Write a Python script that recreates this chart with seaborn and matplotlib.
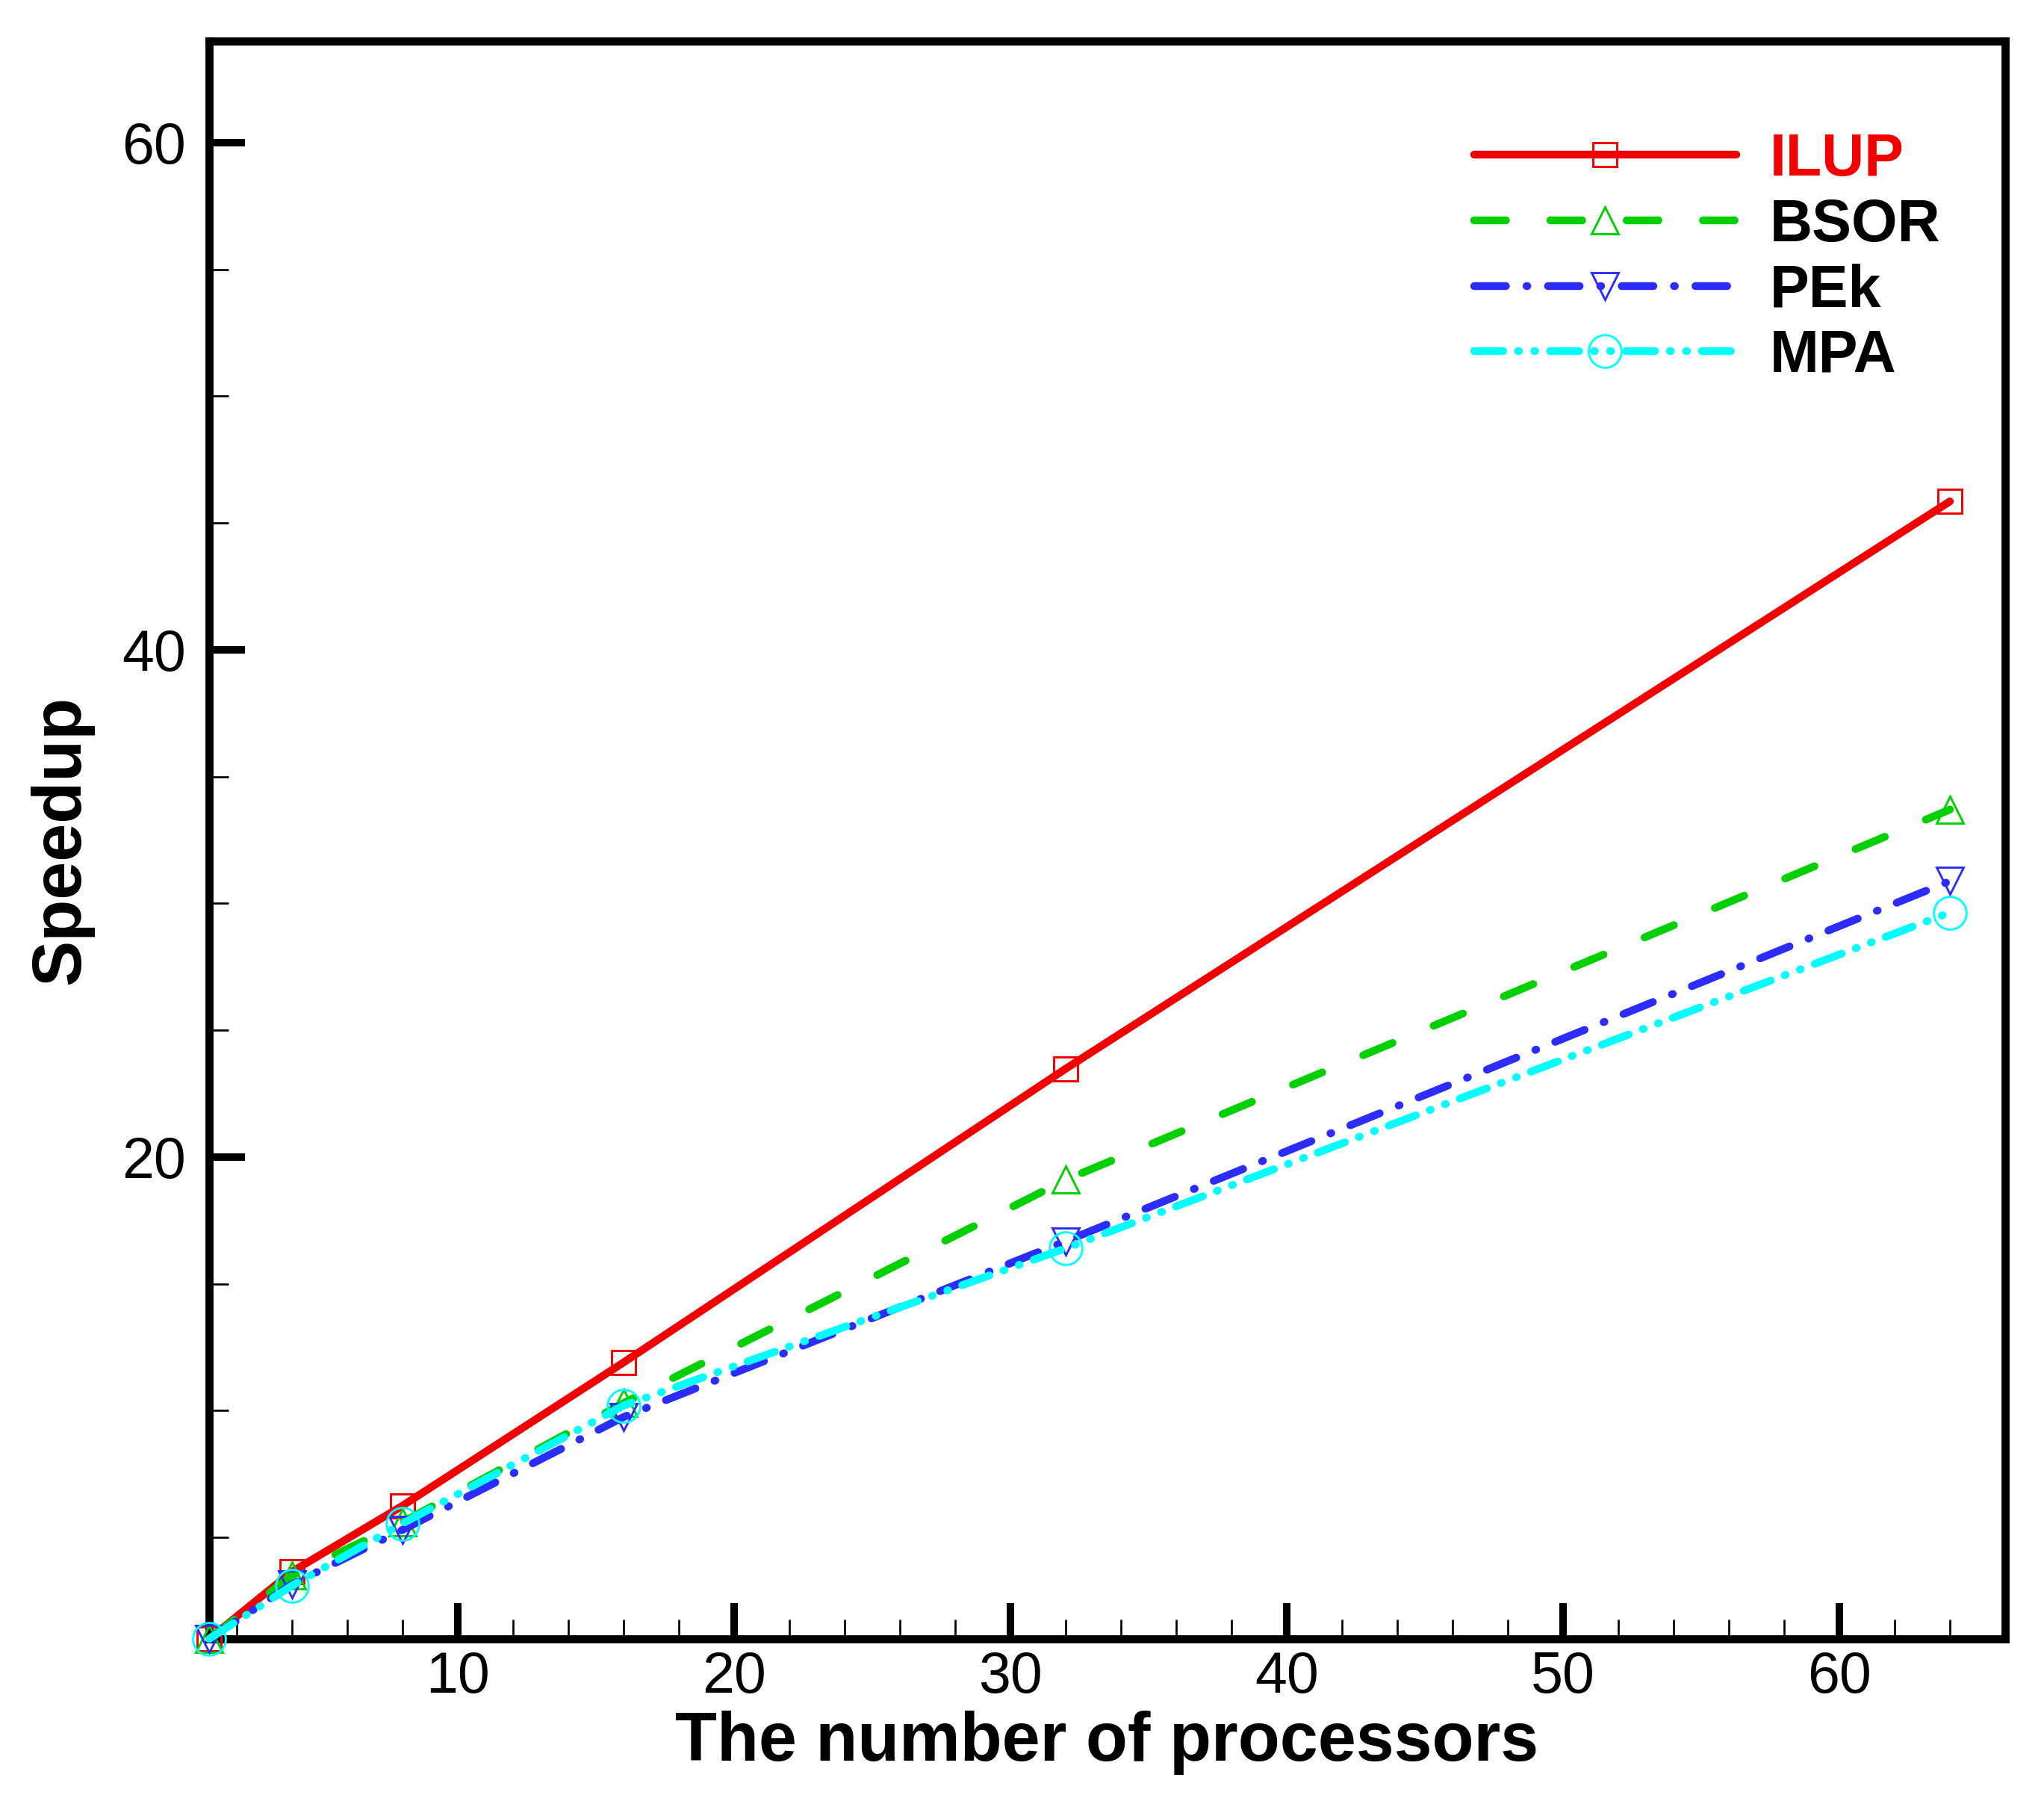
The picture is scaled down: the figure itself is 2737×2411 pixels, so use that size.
import numpy as np
import pandas as pd
import seaborn as sns
import matplotlib
matplotlib.use('Agg')
import matplotlib.pyplot as plt
from matplotlib.ticker import MultipleLocator

# data
procs = [1, 4, 8, 16, 32, 64]
ilup = [1.0, 3.65, 6.25, 11.9, 23.48, 45.85]
bsor = [1.0, 3.5, 5.6, 10.3, 19.1, 33.7]
pek = [1.0, 3.15, 5.3, 9.75, 16.68, 30.88]
mpa = [1.0, 3.1, 5.55, 10.2, 16.4, 29.64]

series_names = ['ILUP', 'BSOR', 'PEk', 'MPA']
series_values = [ilup, bsor, pek, mpa]
colors = ['#f00000', '#00d000', '#2c2cff', '#00ffff']
markers = ['s', '^', 'v', 'o']
marker_sizes = [7.7, 8.5, 8.5, 10.5]
linestyles = ['-',
              (0, (10.2, 14.3)),
              (0, (10.2, 6.6, 0.3, 6.6)),
              (0, (9.3, 4.8, 0.3, 4.9, 0.3, 4.8))]

sns.set_style('white')
plt.rcParams['font.family'] = ['Liberation Sans', 'DejaVu Sans']
plt.rcParams['lines.scale_dashes'] = False
plt.rcParams['text.color'] = 'black'
plt.rcParams['axes.labelcolor'] = 'black'

fig = plt.figure(figsize=(2737 / 300, 2411 / 300), dpi=300)
ax = fig.add_axes([0.1023, 0.09, 0.981 - 0.1023, 0.9772 - 0.09])

for name, vals, c, m, ms, ls in zip(series_names, series_values, colors,
                                    markers, marker_sizes, linestyles):
    df = pd.DataFrame({'procs': procs, 'speedup': vals})
    sns.lineplot(data=df, x='procs', y='speedup', ax=ax, color=c,
                 linewidth=2.5, linestyle=ls, marker=m, markersize=ms,
                 markerfacecolor='none', markeredgecolor=c,
                 markeredgewidth=0.7, dash_capstyle='round',
                 solid_capstyle='round', label=name, clip_on=False)

ax.set_xlim(1, 66)
ax.set_ylim(1, 64)
ax.xaxis.set_major_locator(MultipleLocator(10))
ax.xaxis.set_minor_locator(MultipleLocator(2))
ax.yaxis.set_major_locator(MultipleLocator(20))
ax.yaxis.set_minor_locator(MultipleLocator(5))

for sp in ax.spines.values():
    sp.set_linewidth(2.6)
    sp.set_color('black')
    sp.set_zorder(1)

ax.tick_params(which='major', direction='in', length=11.5, width=2.4,
               labelsize=18.5, color='black', labelcolor='black')
ax.tick_params(which='minor', direction='in', length=6.3, width=0.65,
               color='black')
ax.tick_params(axis='x', which='both', bottom=True, top=False, pad=3.5)
ax.tick_params(axis='y', which='both', left=True, right=False, pad=7.5)

ax.set_xlabel('The number of processors', fontsize=22, fontweight='bold',
              labelpad=2)
ax.set_ylabel('Speedup', fontsize=22, fontweight='bold', labelpad=9)

leg = ax.legend(handles=ax.lines, labels=series_names, loc='upper left',
                bbox_to_anchor=(0.7044, 0.943), frameon=False,
                prop={'weight': 'bold', 'size': 19}, handlelength=4.43,
                handletextpad=0.57, labelspacing=0.16, borderpad=0,
                borderaxespad=0, numpoints=1)
for t in leg.get_texts():
    t.set_color('black')
leg.get_texts()[0].set_color('#f00000')

fig.savefig('out.png', dpi=300)
